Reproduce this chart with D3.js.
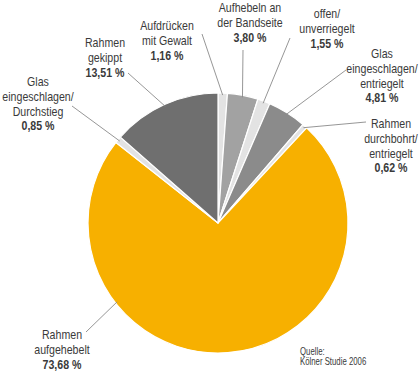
<!DOCTYPE html>
<html>
<head>
<meta charset="utf-8">
<script src="https://cdn.jsdelivr.net/npm/d3@7"></script>
<style>
  html, body { margin: 0; padding: 0; background: #fff; }
  svg { display: block; }
  text { font-family: "Liberation Sans", Arial, sans-serif; fill: #3a3a3a; }
</style>
</head>
<body>
<svg id="chart" width="420" height="371"></svg>
<script>
// ---- data ----
const categories = [
  ["Aufdrücken", "mit Gewalt"],
  ["Aufhebeln an", "der Bandseite"],
  ["offen/", "unverriegelt"],
  ["Glas", "eingeschlagen/", "entriegelt"],
  ["Rahmen", "durchbohrt/", "entriegelt"],
  ["Rahmen", "aufgehebelt"],
  ["Glas", "eingeschlagen/", "Durchstieg"],
  ["Rahmen", "gekippt"]
];
const values = [1.16, 3.80, 1.55, 4.81, 0.62, 73.68, 0.85, 13.51];
const valueLabels = ["1,16 %", "3,80 %", "1,55 %", "4,81 %", "0,62 %", "73,68 %", "0,85 %", "13,51 %"];
const colors = ["#e3e3e3", "#a2a2a2", "#e3e3e3", "#8b8b8b", "#e3e3e3", "#f7b000", "#e3e3e3", "#6f6f6f"];
const sourceLines = ["Quelle:", "Kölner Studie 2006"];

// ---- layout ----
const cx = 218, cy = 223, r = 130;
const condense = 0.78;
// label anchor (center x, first baseline y), leader start point, leader end angle (deg, null = slice middle)
const labelLayout = [
  { x: 167, y: 30,  lx: 202, ly: 34,  ang: null },
  { x: 250, y: 12,  lx: 243, ly: 50,  ang: null },
  { x: 327, y: 18,  lx: 290, ly: 38,  ang: null },
  { x: 382, y: 58,  lx: 346, ly: 70,  ang: null },
  { x: 391, y: 128, lx: 366, ly: 122, ang: null },
  { x: 62,  y: 339, lx: 86,  ly: 332, ang: 232 },
  { x: 38,  y: 86,  lx: 72,  ly: 106, ang: null },
  { x: 105, y: 47,  lx: 128, ly: 73,  ang: null }
];
const lineH = 14.8;

const svg = d3.select("#chart");
const g = svg.append("g").attr("transform", `translate(${cx},${cy})`);

const pie = d3.pie().sort(null).value(d => d)(values);
const arc = d3.arc().innerRadius(0).outerRadius(r);

g.selectAll("path.slice")
  .data(pie)
  .join("path")
  .attr("class", "slice")
  .attr("d", arc)
  .attr("fill", (d, i) => colors[i])
  .attr("stroke", "#ffffff")
  .attr("stroke-width", 1.2)
  .attr("stroke-linejoin", "round");

// leader lines
pie.forEach((d, i) => {
  const L = labelLayout[i];
  const a = L.ang === null ? (d.startAngle + d.endAngle) / 2 : L.ang * Math.PI / 180;
  const er = r - 2;
  const ex = cx + er * Math.sin(a), ey = cy - er * Math.cos(a);
  svg.append("line")
    .attr("x1", L.lx).attr("y1", L.ly)
    .attr("x2", ex).attr("y2", ey)
    .attr("stroke", "#8a8a8a")
    .attr("stroke-width", 0.9);
});

// labels
categories.forEach((lines, i) => {
  const L = labelLayout[i];
  const t = svg.append("text")
    .attr("transform", `translate(${L.x},${L.y}) scale(${condense},1)`)
    .attr("text-anchor", "middle")
    .style("font-size", "13.6px");
  lines.forEach((s, k) => {
    t.append("tspan").attr("x", 0).attr("dy", k === 0 ? 0 : lineH).text(s);
  });
  t.append("tspan").attr("x", 0).attr("dy", lineH)
    .style("font-weight", "bold").text(valueLabels[i]);
});

// source
const src = svg.append("text")
  .attr("transform", `translate(300,355) scale(${condense},1)`)
  .style("font-size", "10px");
sourceLines.forEach((s, k) => {
  src.append("tspan").attr("x", 0).attr("dy", k === 0 ? 0 : 10).text(s);
});
</script>
</body>
</html>
